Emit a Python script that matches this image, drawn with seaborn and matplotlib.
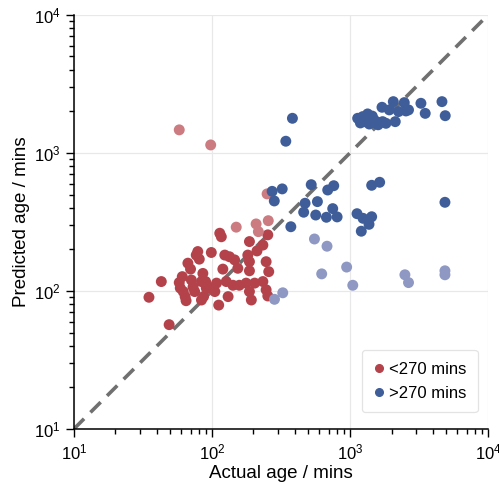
import numpy as np
import pandas as pd
import matplotlib
matplotlib.use("Agg")
import matplotlib.pyplot as plt
from matplotlib.lines import Line2D
import seaborn as sns

# actual vs predicted age (mins)
red_actual = [35, 43, 49, 58, 61, 59, 62, 64, 65, 67, 70, 71, 73, 75, 77, 79, 81, 84,
              87, 86, 90, 84, 99, 91, 99, 105, 108, 112, 114, 117, 120, 124, 127, 131,
              134, 142, 146, 154, 158, 182, 187, 187, 187, 177, 187, 193, 204, 212,
              234, 234, 247, 254, 247, 254, 258]
red_pred = [90, 117, 57, 115, 127, 105, 99, 91, 85, 159, 144, 120, 107, 99, 182, 193,
            170, 86, 91, 134, 117, 117, 190, 105, 105, 99, 114, 79, 262, 247, 144, 182,
            117, 91, 177, 110, 168, 146, 110, 182, 228, 163, 140, 114, 99, 86, 114, 195,
            117, 215, 163, 255, 102, 92, 138]

red_miss_actual = [58, 98, 251, 150, 209, 217, 256]
red_miss_pred = [1470, 1143, 505, 290, 306, 269, 323]

blue_actual = [1137, 1236, 1343, 1270, 1420, 1500, 1544, 1632, 1723, 1823, 1706, 2060,
               1928, 2250, 2474, 2543, 2655, 2128, 3266, 3508, 4638, 4898, 1190, 1380,
               1600, 1450,
               383, 343, 273, 323, 283, 373, 524, 690, 763, 581, 473, 462, 565, 750,
               675, 807, 1125, 1244, 1436, 1374, 1208, 1436, 1641, 4875]
blue_pred = [1783, 1833, 1918, 1686, 1755, 1734, 1640, 1659, 1686, 1640, 2143, 2354,
             2051, 1995, 2316, 2015, 2051, 1686, 2290, 1936, 2354, 1862, 1650, 1620,
             1600, 1850,
             1783, 1216, 527, 549, 449, 292, 589, 539, 579, 444, 432, 372, 355, 395,
             342, 344, 363, 336, 345, 304, 271, 583, 613, 439]

blue_miss_actual = [284, 326, 553, 682, 624, 946, 1048, 2500, 2655, 4875, 4875]
blue_miss_pred = [87, 97, 238, 211, 133, 149, 110, 131, 115, 140, 131]

groups = ["<270", "<270 miss", ">270", ">270 miss"]
palette = {"<270": "#b4424b", "<270 miss": "#cc7b80",
           ">270": "#3f5e99", ">270 miss": "#8e98c3"}

df = pd.concat([
    pd.DataFrame({"actual": red_actual, "pred": red_pred, "group": groups[0]}),
    pd.DataFrame({"actual": red_miss_actual, "pred": red_miss_pred, "group": groups[1]}),
    pd.DataFrame({"actual": blue_actual, "pred": blue_pred, "group": groups[2]}),
    pd.DataFrame({"actual": blue_miss_actual, "pred": blue_miss_pred, "group": groups[3]}),
], ignore_index = True)

sns.set_theme(style = "ticks")
plt.rcParams["font.family"] = ["Liberation Sans", "DejaVu Sans"]
plt.rcParams["mathtext.fontset"] = "custom"
plt.rcParams["mathtext.rm"] = "Liberation Sans"
plt.rcParams["text.color"] = "black"
plt.rcParams["axes.labelcolor"] = "black"
plt.rcParams["xtick.labelcolor"] = "black"
plt.rcParams["ytick.labelcolor"] = "black"

fig = plt.figure(figsize = (4.99, 4.82), dpi = 100)
ax = fig.add_axes([0.148, 0.110, 0.830, 0.859])

ax.plot([10, 1e4], [10, 1e4], color = "#707070", linestyle = (0, (4, 2.5)),
        linewidth = 2.6, zorder = 1)

sns.scatterplot(data = df, x = "actual", y = "pred", hue = "group", palette = palette,
                s = 62, linewidth = 0, legend = False, ax = ax, zorder = 3)

ax.set_xscale("log")
ax.set_yscale("log")
ax.set_xlim(10, 1e4)
ax.set_ylim(10, 1e4)
ax.grid(True, which = "major", color = "#e8e8e8", linewidth = 0.9, zorder = 0)
ax.set_axisbelow(True)
sns.despine(ax = ax)
ax.tick_params(which = "major", length = 6, width = 1, labelsize = 12, color = "black")
ax.tick_params(which = "minor", length = 3.5, width = 1, color = "black")
for sp in ["left", "bottom"]:
    ax.spines[sp].set_linewidth(1.1)
    ax.spines[sp].set_color("black")

ax.set_xlabel("Actual age / mins", fontsize = 13.5, labelpad = 2)
ax.set_ylabel("Predicted age / mins", fontsize = 13.5, labelpad = 3)

handles = [Line2D([], [], marker = "o", linestyle = "", color = palette["<270"], markersize = 5.5),
           Line2D([], [], marker = "o", linestyle = "", color = palette[">270"], markersize = 5.5)]
leg = ax.legend(handles, ["<270 mins", ">270 mins"], loc = "lower right", fontsize = 12,
                handlelength = 0.6, handletextpad = 0.3, borderpad = 0.7,
                labelspacing = 0.55, bbox_to_anchor = (0.995, 0.02), frameon = True)
leg.get_frame().set_edgecolor("#dddddd")
leg.get_frame().set_linewidth(0.9)

fig.savefig("out.png", dpi = 100)
